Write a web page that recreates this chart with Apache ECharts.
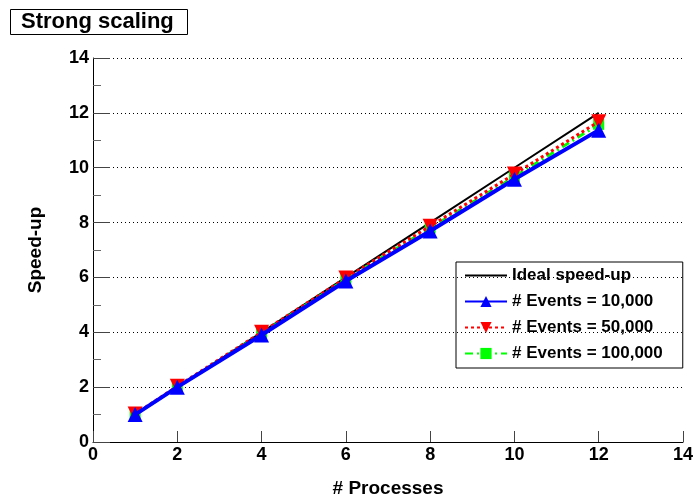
<!DOCTYPE html>
<html><head><meta charset="utf-8">
<script src="https://cdn.jsdelivr.net/npm/echarts@6/dist/echarts.min.js"></script>
<style>html,body{margin:0;padding:0;background:#fff}#c{width:693px;height:499px}</style>
</head><body><div id="c"></div>
<script>
const processes = [1, 2, 4, 6, 8, 10, 12];
const ideal = [1, 2, 4, 6, 8, 10, 12];
const ev10k = [1.0, 2.0, 3.9, 5.87, 7.69, 9.58, 11.37];
const ev50k = [1.02, 2.03, 4.0, 5.98, 7.87, 9.77, 11.68];
const ev100k = [1.0, 2.0, 3.96, 5.94, 7.8, 9.67, 11.58];
const names = ['Ideal speed-up', '# Events = 10,000', '# Events = 50,000', '# Events = 100,000'];

const pair = (ys) => processes.map((x, i) => [x, ys[i]]);
const font = 'Liberation Sans, Arial, Helvetica, sans-serif';
const chart = echarts.init(document.getElementById('c'), null, {renderer: 'canvas'});
chart.setOption({
  animation: false,
  backgroundColor: '#fff',
  title: {
    text: 'Strong scaling', left: 10, top: 9,
    borderColor: '#000', borderWidth: 1, padding: [2, 14, 2, 11],
    textStyle: {fontFamily: font, fontWeight: 'bold', fontSize: 22, color: '#000'}
  },
  legend: {
    orient: 'vertical', left: 456, top: 262,
    data: [
      {name: names[0], itemStyle: {opacity: 0}},
      names[1], names[2], names[3]
    ],
    borderColor: '#000', borderWidth: 1, padding: [5, 20, 6, 8],
    itemWidth: 42, itemHeight: 14, itemGap: 9,
    textStyle: {fontFamily: font, fontWeight: 'bold', fontSize: 17, color: '#000'}
  },
  grid: {left: 93, right: 10, top: 58, bottom: 57, outerBoundsMode: 'none', containLabel: false},
  xAxis: {
    type: 'value', min: 0, max: 14, interval: 2,
    name: '# Processes', nameLocation: 'middle', nameGap: 37,
    nameTextStyle: {fontFamily: font, fontWeight: 'bold', fontSize: 19, color: '#000'},
    axisLine: {show: true, onZero: false, lineStyle: {color: '#000', width: 1}},
    axisTick: {show: true, inside: true, length: 11, lineStyle: {color: '#444'}},
    axisLabel: {fontFamily: font, fontWeight: 'bold', fontSize: 18, color: '#000', margin: 4},
    splitLine: {show: false}
  },
  yAxis: {
    type: 'value', min: 0, max: 14, interval: 2,
    name: 'Speed-up', nameLocation: 'middle', nameGap: 48,
    nameTextStyle: {fontFamily: font, fontWeight: 'bold', fontSize: 19, color: '#000'},
    axisLine: {show: true, lineStyle: {color: '#000', width: 1}},
    axisTick: {show: true, inside: true, length: 17, lineStyle: {color: '#444'}},
    minorTick: {show: true, splitNumber: 2, length: 8, lineStyle: {color: '#666'}},
    axisLabel: {fontFamily: font, fontWeight: 'bold', fontSize: 18, color: '#000', margin: 4},
    splitLine: {show: true, lineStyle: {color: '#000', type: [1, 3], width: 1}}
  },
  series: [
    {name: names[0], type: 'line', data: pair(ideal), symbol: 'none', z: 2,
     lineStyle: {color: '#000', width: 2}, itemStyle: {color: '#000'}},
    {name: names[3], type: 'line', data: pair(ev100k), symbol: 'rect', symbolSize: 11, z: 3,
     lineStyle: {color: '#00ff00', width: 3, type: [8, 4, 2, 4]}, itemStyle: {color: '#00ff00'}},
    {name: names[2], type: 'line', data: pair(ev50k), symbol: 'triangle', symbolRotate: 180, symbolSize: 15, z: 4,
     lineStyle: {color: '#ff0000', width: 3, type: [3, 3]}, itemStyle: {color: '#ff0000'}},
    {name: names[1], type: 'line', data: pair(ev10k), symbol: 'triangle', symbolSize: 15, z: 5,
     lineStyle: {color: '#0000ff', width: 4}, itemStyle: {color: '#0000ff'}}
  ]
});
</script></body></html>
